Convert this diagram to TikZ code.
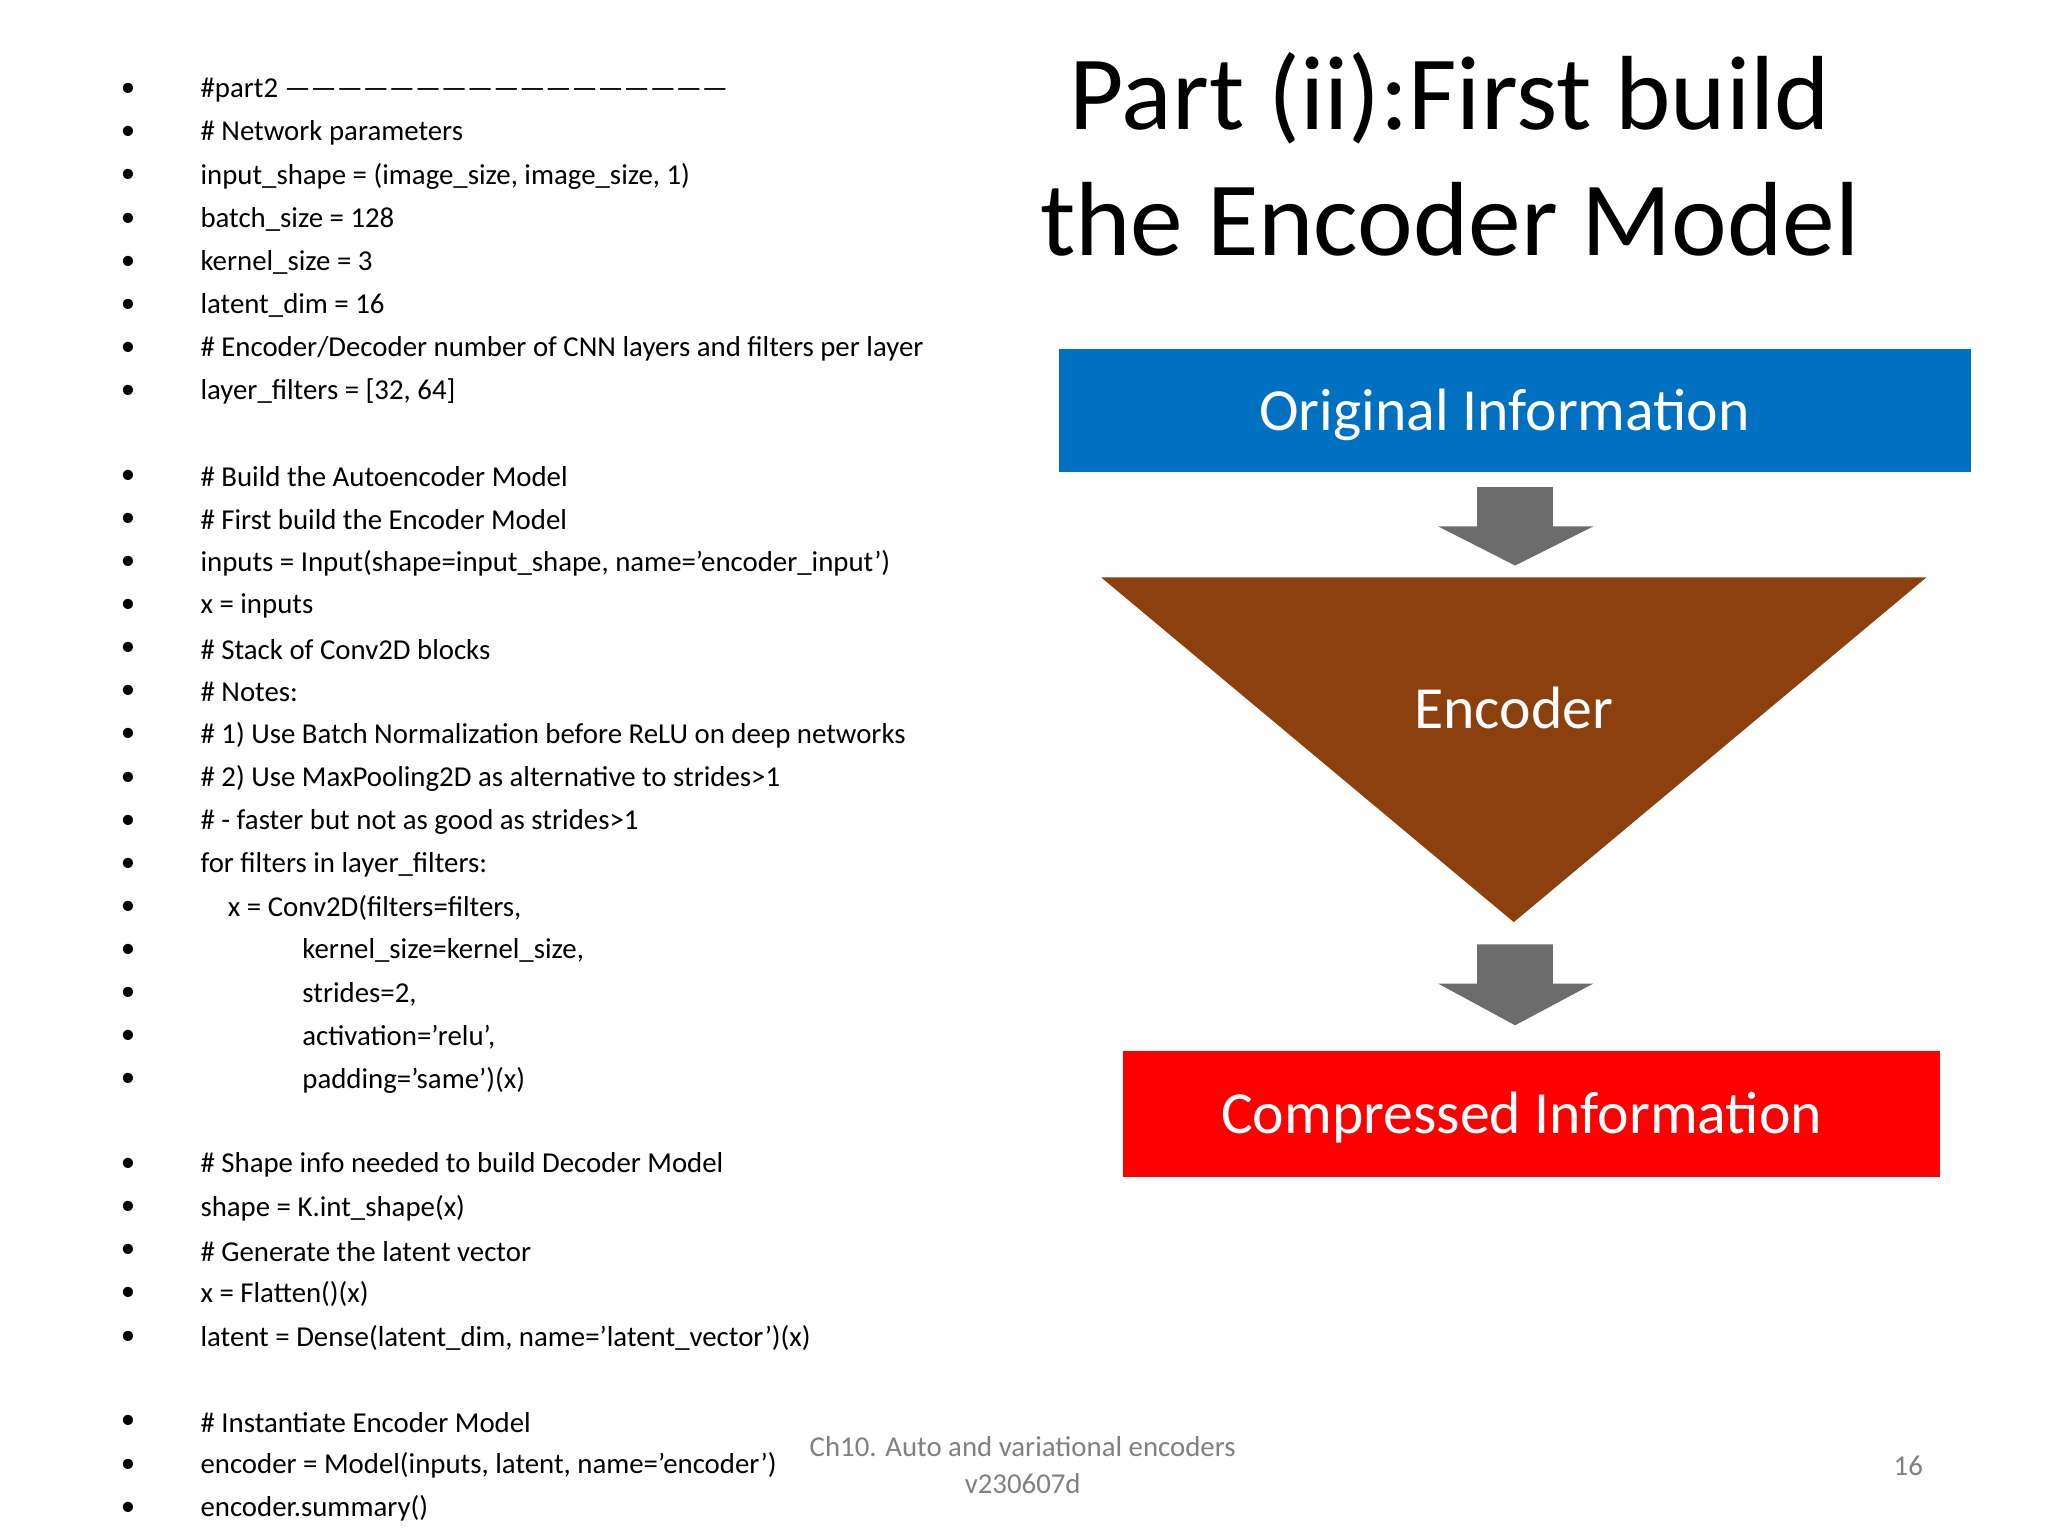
\documentclass[tikz,border=0pt]{standalone}
\usepackage{fontspec}
\setmainfont{Carlito}
\begin{document}
\begin{tikzpicture}[x=0.013061cm,y=-0.013061cm,
  code/.style={anchor=west,font=\fontsize{8.2pt}{9pt}\selectfont,inner sep=0pt},
  bul/.style={font=\fontsize{8.2pt}{9pt}\selectfont,inner sep=0pt},
  box/.style={draw=none,minimum width=0},
  lbl/.style={text=white,font=\fontsize{17pt}{19pt}\selectfont},
  darr/.style={fill=gray!85!black}]
\useasboundingbox (0,0) rectangle (1568,1176);
\fill[white] (0,0) rectangle (1568,1176);
\foreach \y/\x/\t [count=\i] in {
69/153/{\#part2 ---------------------------------------------------},
102/153/{\# Network parameters},
135/153/{input\_shape = (image\_size, image\_size, 1)},
168/153/{batch\_size = 128},
201/153/{kernel\_size = 3},
234/153/{latent\_dim = 16},
267/153/{\# Encoder/Decoder number of CNN layers and filters per layer},
300/153/{layer\_filters = [32, 64]},
365/153/{\# Build the Autoencoder Model},
398/153/{\# First build the Encoder Model},
431/153/{inputs = Input(shape=input\_shape, name='encoder\_input')},
464/153/{x = inputs},
497/153/{\# Stack of Conv2D blocks},
530/153/{\# Notes:},
563/153/{\# 1) Use Batch Normalization before ReLU on deep networks},
596/153/{\# 2) Use MaxPooling2D as alternative to strides>1},
629/153/{\# - faster but not as good as strides>1},
662/153/{for filters in layer\_filters:},
695/174/{x = Conv2D(filters=filters,},
728/231/{kernel\_size=kernel\_size,},
761/231/{strides=2,},
794/231/{activation='relu',},
827/231/{padding='same')(x)},
892/153/{\# Shape info needed to build Decoder Model},
925/153/{shape = K.int\_shape(x)},
958/153/{\# Generate the latent vector},
991/153/{x = Flatten()(x)},
1024/153/{latent = Dense(latent\_dim, name='latent\_vector')(x)},
1089/153/{\# Instantiate Encoder Model},
1122/153/{encoder = Model(inputs, latent, name='encoder')},
1155/153/{encoder.summary()}}{
  \node[bul] (b\i) at (98,\y) {\textbullet};
  \node[code] (c\i) at (\x,\y) {\t};
}
\node[font=\fontsize{30pt}{36pt}\selectfont,align=center] (title) at (1110,118) {Part (ii):First build\\the Encoder Model};
\fill[fill={rgb,255:red,0;green,112;blue,192}] (811,267) rectangle (1509,361);
\node[lbl] (orig) at (1152,318) {Original Information};
\fill[darr] (1131,373) -- (1189,373) -- (1189,403) -- (1220,403) -- (1160,433) -- (1101,403) -- (1131,403) -- cycle;
\fill[fill={rgb,255:red,139;green,64;blue,14}] (843,442) -- (1475,442) -- (1159,706) -- cycle;
\node[lbl] (enc) at (1159,542) {Encoder};
\fill[darr] (1131,723) -- (1189,723) -- (1189,753) -- (1220,753) -- (1160,785) -- (1101,753) -- (1131,753) -- cycle;
\fill[fill={rgb,255:red,255;green,0;blue,0}] (860,805) rectangle (1485,901);
\node[lbl] (comp) at (1165,856) {Compressed Information};
\node[text=gray,font=\fontsize{8.2pt}{10.5pt}\selectfont,align=center] (foot) at (783,1122) {Ch10. Auto and variational encoders\\v230607d};
\node[text=gray,font=\fontsize{8.2pt}{9pt}\selectfont] (num) at (1461,1122) {16};
\end{tikzpicture}
\end{document}
